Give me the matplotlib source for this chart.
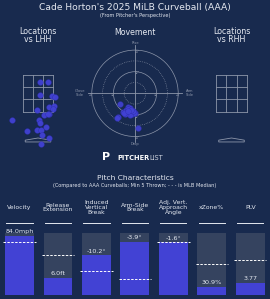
import numpy as np
import matplotlib
matplotlib.use('Agg')
import matplotlib.pyplot as plt
from matplotlib.patches import Circle, Polygon

W, H = 270, 299
BG = '#182a4e'
PANEL = '#35435f'
BLUE = '#4242d4'
EDGE = '#2c2ca8'
GRID = '#8d96aa'
TXT = '#e4e8f0'

# locations vs LHH (plate_x ft, plate_z ft)
lhh_x = [0.11, 0.57, 0.11, 0.79, 0.96, -0.07, 0.61, 0.91, 0.82, 0.63, 0.35,
         0.56, -1.44, 0.06, 0.11, 0.44, -0.59, -0.07, 0.15, 0.21, 0.63, 0.17]
lhh_z = [3.09, 3.09, 2.37, 2.32, 2.28, 1.57, 1.71, 1.76, 1.59, 1.35, 1.29,
         1.33, 0.98, 1.02, 0.82, 0.61, 0.39, 0.46, 0.46, 0.17, -0.02, -0.35]

# movement (inches, pitcher's perspective)
mov_hb = [-8.3, -4.1, -2.8, -1.3, -6.5, -4.6, 0.0, -1.8, -9.3, -9.8, 1.8,
          -3.5, -2.2, -5.0, -0.5, -3.0, -4.0, -1.0, -5.5, -2.5, -6.0, -3.8]
mov_ivb = [-6.1, -7.4, -8.3, -9.7, -10.2, -11.1, -10.8, -11.7, -13.0, -13.6, -19.4,
           -9.0, -10.5, -9.5, -11.0, -12.0, -8.8, -10.0, -11.5, -9.2, -10.8, -9.8]

# pitch characteristics (percentile fill 0-1)
stat_names = ['Velocity', 'Release\nExtension', 'Induced\nVertical\nBreak', 'Arm-Side\nBreak',
              'Adj. Vert.\nApproach\nAngle', 'xZone%', 'PLV']
stat_labels = ['84.0mph', '6.0ft', '-10.2°', '-3.9°', '-1.6°', '30.9%', '3.77']
stat_pct = [0.95, 0.28, 0.64, 0.855, 0.846, 0.128, 0.197]
median_pct = [0.85, 0.65, 0.385, 0.25, 0.855, 0.49, 0.56]


def px_rect(x0, y0, x1, y1):
    return [x0 / W, 1 - y1 / H, (x1 - x0) / W, (y1 - y0) / H]


def zone_axes(fig, cx, xs=None, zs=None):
    # 18 px per foot, z=3.5 at py 75
    ax = fig.add_axes(px_rect(cx - 38, 55, cx + 38, 150))
    ax.set_xlim(-38 / 18, 38 / 18)
    ax.set_ylim(3.5 - 75 / 18, 3.5 + 20 / 18)
    ax.axis('off')
    xe = [-0.85, -0.85 / 3, 0.85 / 3, 0.85]
    ze = [1.47, 1.47 + 2.03 / 3, 1.47 + 4.06 / 3, 3.5]
    for x in xe:
        ax.plot([x, x], [ze[0], ze[-1]], color=GRID, lw=0.6, zorder=1)
    for z in ze:
        ax.plot([xe[0], xe[-1]], [z, z], color=GRID, lw=0.6, zorder=1)
    plate = [(-0.71, -0.22), (-0.71, -0.12), (0, 0.0), (0.71, -0.12), (0.71, -0.22)]
    ax.add_patch(Polygon(plate, closed=True, fill=False, ec=GRID, lw=0.6, zorder=1))
    if xs is not None:
        ax.scatter(xs, zs, s=17, color=BLUE, edgecolors=EDGE, linewidths=0.3,
                   alpha=0.95, zorder=3, clip_on=False)
    return ax


fig = plt.figure(figsize=(W / 100, H / 100), dpi=100, facecolor=BG)

fig.text(0.5, 1 - 7.5 / H, "Cade Horton's 2025 MiLB Curveball (AAA)", ha='center', va='center',
         fontsize=6.6, color=TXT)
fig.text(0.5, 1 - 16 / H, "(From Pitcher's Perspective)", ha='center', va='center',
         fontsize=3.6, color=TXT)

fig.text(38 / W, 1 - 35.5 / H, 'Locations\nvs LHH', ha='center', va='center', fontsize=5.7,
         color=TXT, linespacing=0.95)
fig.text(231.5 / W, 1 - 35.5 / H, 'Locations\nvs RHH', ha='center', va='center', fontsize=5.7,
         color=TXT, linespacing=0.95)
fig.text(135 / W, 1 - 32.5 / H, 'Movement', ha='center', va='center', fontsize=5.7, color=TXT)

zone_axes(fig, 38, lhh_x, lhh_z)
zone_axes(fig, 231.5)

# movement plot
ax = fig.add_axes(px_rect(81, 39.3, 189, 147.3))
ax.set_xlim(-30, 30)
ax.set_ylim(-30, 30)
ax.axis('off')
for r, ls in [(6, ':'), (12, '-'), (18, ':'), (24, '-')]:
    ax.add_patch(Circle((0, 0), r, fill=False, ec=GRID, lw=0.5, ls=ls, zorder=1))
ax.plot([-26, 26], [0, 0], color=GRID, lw=0.6, zorder=1)
ax.plot([0, 0], [-27, 27], color=GRID, lw=0.6, zorder=1)
for v in [12, 24]:
    for s in [-1, 1]:
        ax.text(s * v, -1.2, '%d"' % v, fontsize=2.2, color=GRID, ha='center', va='center')
        ax.text(1.4, s * v - 1.0, '%d"' % v, fontsize=2.2, color=GRID, ha='center', va='center')
ax.text(0, 28.2, 'Rise', fontsize=2.6, color=GRID, ha='center', va='center')
ax.text(0, -28.0, 'Drop', fontsize=2.6, color=GRID, ha='center', va='center')
ax.text(-30.5, 0, 'Glove\nSide', fontsize=2.6, color=GRID, ha='center', va='center',
        linespacing=0.9, clip_on=False)
ax.text(30.5, 0, 'Arm\nSide', fontsize=2.6, color=GRID, ha='center', va='center',
        linespacing=0.9, clip_on=False)
ax.scatter(mov_hb, mov_ivb, s=17, color=BLUE, edgecolors=EDGE, linewidths=0.3,
           alpha=0.9, zorder=3)

# logo
fig.text(106 / W, 1 - 157.5 / H, 'P', fontsize=8, fontweight='bold', color='white',
         ha='center', va='center')
fig.text(117 / W, 1 - 158.5 / H, 'PITCHER', fontsize=4.8, fontweight='bold', color='white',
         ha='left', va='center')
fig.text(149.5 / W, 1 - 158.5 / H, 'LIST', fontsize=4.8, color='#c9cfdb',
         ha='left', va='center')

fig.text(0.5, 1 - 177.5 / H, 'Pitch Characteristics', ha='center', va='center',
         fontsize=5.4, color=TXT)
fig.text(0.5, 1 - 185.3 / H, '(Compared to AAA Curveballs; Min 5 Thrown; - - - is MLB Median)',
         ha='center', va='center', fontsize=3.6, color=TXT)

# bars
bx = fig.add_axes(px_rect(0.3, 232.7, 269.5, 295))
bx.set_xlim(-0.5, 6.5)
bx.set_ylim(0, 1)
bx.axis('off')
pos = np.arange(len(stat_names))
bx.bar(pos, [1] * len(pos), width=0.75, color=PANEL, zorder=1)
bx.bar(pos, stat_pct, width=0.75, color=BLUE, zorder=2)
tr = bx.get_xaxis_transform()
for i in pos:
    bx.plot([i - 0.42, i + 0.42], [median_pct[i]] * 2, color='white', lw=0.7,
            ls=(0, (2.5, 1.5)), zorder=3)
    bx.text(i, stat_pct[i] + 0.065, stat_labels[i], ha='center', va='center',
            fontsize=4.6, color=TXT, zorder=4)
    bx.text(i, 1.405, stat_names[i], transform=tr, ha='center', va='center',
            fontsize=4.4, color=TXT, linespacing=0.95, clip_on=False)
    bx.plot([i - 0.34, i + 0.34], [1.151, 1.151], transform=tr, color=TXT, lw=0.7,
            clip_on=False)

fig.savefig('out.png', dpi=100, facecolor=BG)
